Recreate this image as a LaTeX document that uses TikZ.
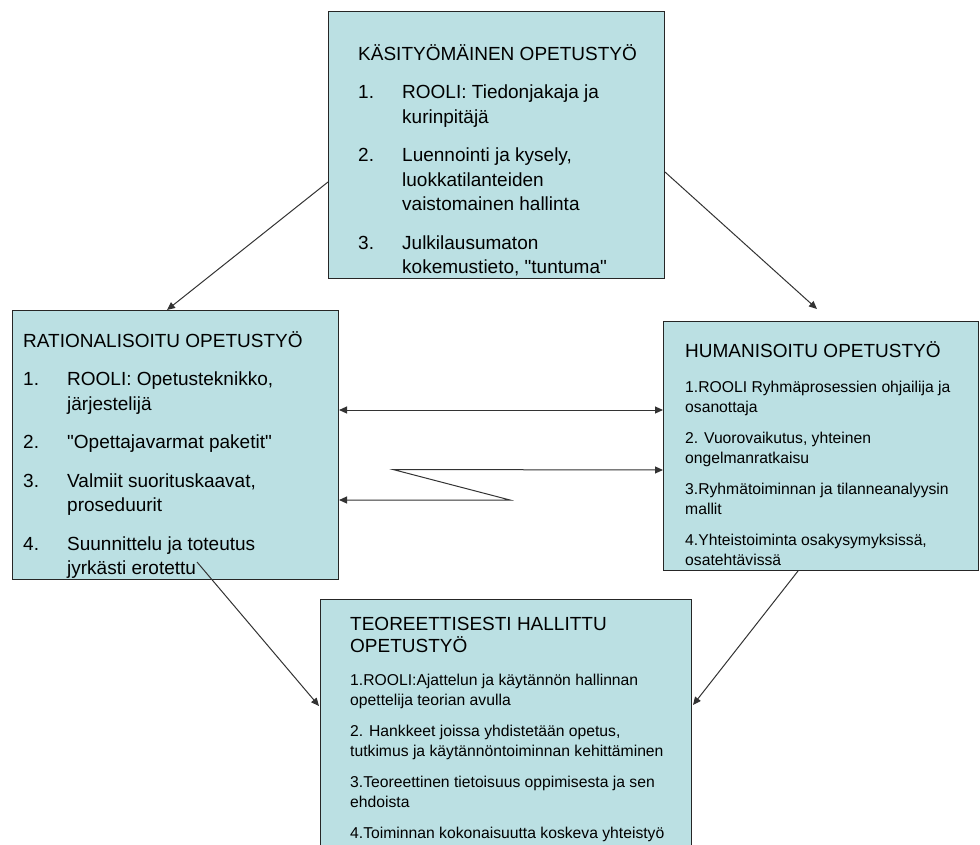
\documentclass[tikz,border=0pt]{standalone}
\usepackage{fontspec}
\setmainfont{Liberation Sans}[Ligatures=TeXOff]
\usetikzlibrary{positioning, calc, arrows.meta}
\definecolor{laatikkosini}{RGB}{187,224,227}
\setlength{\parindent}{0pt}
\newcommand{\kohta}[2]{\par\hangindent=44pt\hangafter=1\noindent\makebox[44pt][l]{#1}#2}

\begin{document}
\begin{tikzpicture}[x=1pt, y=-1pt,
    laatikko/.style={draw=black!85, line width=1pt, fill=laatikkosini, anchor=north west, inner sep=0pt},
    teksti/.style={anchor=base west, inner sep=0pt},
    nuoli/.style={-{Triangle[length=8pt,width=7pt]}, line width=1pt, draw=black!80},
    kaksinuoli/.style={{Triangle[length=8pt,width=7pt]}-{Triangle[length=8pt,width=7pt]}, line width=1pt, draw=black!80}]

    \useasboundingbox (0,0) rectangle (980,844);
    \clip (0,0) rectangle (980,844);

    % Laatikot
    \node[laatikko, minimum width=336pt, minimum height=267pt] (kasityo) at (328,11) {};
    \node[laatikko, minimum width=326pt, minimum height=269pt] (rational) at (12,310) {};
    \node[laatikko, minimum width=315pt, minimum height=249pt] (human) at (663,321) {};
    \node[laatikko, minimum width=371pt, minimum height=300pt] (teoria) at (320,599) {};

    % Tekstit
    \node[teksti] (kasityo-teksti) at ($(kasityo.north west)+(30,49)$) {\parbox[t]{300pt}{%
        \fontsize{19}{24.5}\selectfont\setlength{\parskip}{14pt}%
        KÄSITYÖMÄINEN OPETUSTYÖ
        \kohta{1.}{ROOLI: Tiedonjakaja ja\newline kurinpitäjä}
        \kohta{2.}{Luennointi ja kysely,\newline luokkatilanteiden\newline vaistomainen hallinta}
        \kohta{3.}{Julkilausumaton\newline kokemustieto, "tuntuma"}}};

    \node[teksti] (rational-teksti) at ($(rational.north west)+(11,37)$) {\parbox[t]{310pt}{%
        \fontsize{19}{24.5}\selectfont\setlength{\parskip}{14pt}%
        RATIONALISOITU OPETUSTYÖ
        \kohta{1.}{ROOLI: Opetusteknikko,\newline järjestelijä}
        \kohta{2.}{"Opettajavarmat paketit"}
        \kohta{3.}{Valmiit suorituskaavat,\newline proseduurit}
        \kohta{4.}{Suunnittelu ja toteutus\newline jyrkästi erotettu}}};

    \node[teksti] (human-teksti) at ($(human.north west)+(22,36)$) {\parbox[t]{295pt}{%
        \fontsize{19}{24}\selectfont
        HUMANISOITU OPETUSTYÖ\par\vspace{4pt}
        \fontsize{15.7}{20}\selectfont\setlength{\parskip}{11pt}%
        1.ROOLI Ryhmäprosessien ohjailija ja\newline osanottaja\par
        2. Vuorovaikutus, yhteinen\newline ongelmanratkaisu\par
        3.Ryhmätoiminnan ja tilanneanalyysin\newline mallit\par
        4.Yhteistoiminta osakysymyksissä,\newline osatehtävissä}};

    \node[teksti] (teoria-teksti) at ($(teoria.north west)+(30,31)$) {\parbox[t]{345pt}{%
        \fontsize{19}{22}\selectfont
        TEOREETTISESTI HALLITTU\newline OPETUSTYÖ\par\vspace{2pt}
        \fontsize{15.7}{20}\selectfont\setlength{\parskip}{11pt}%
        1.ROOLI:Ajattelun ja käytännön hallinnan\newline opettelija teorian avulla\par
        2. Hankkeet joissa yhdistetään opetus,\newline tutkimus ja käytännöntoiminnan kehittäminen\par
        3.Teoreettinen tietoisuus oppimisesta ja sen\newline ehdoista\par
        4.Toiminnan kokonaisuutta koskeva yhteistyö}};

    % Nuolet
    \draw[nuoli] ($(kasityo.north west)+(0,171)$) -- ($(rational.north west)+(155,0)$);
    \draw[nuoli] ($(kasityo.north east)+(0,161)$) -- ($(human.north west)+(154,-12)$);
    \draw[nuoli] ($(rational.north west)+(185,252)$) -- ($(teoria.north west)+(-1,107)$);
    \draw[nuoli] ($(human.south west)+(135,0)$) -- ($(teoria.north east)+(1,106)$);

    % Vuorovaikutus
    \draw[kaksinuoli] ($(rational.north east)+(0,100)$) -- ($(human.north west)+(0,89)$);
    \coordinate (mutka-ala) at (510,500);
    \coordinate (mutka-yla) at (393,469.5);
    \draw[kaksinuoli] ($(rational.north east)+(0,190)$) -- (mutka-ala) -- (mutka-yla) -- ($(human.north west)+(0,149)$);
\end{tikzpicture}
\end{document}
